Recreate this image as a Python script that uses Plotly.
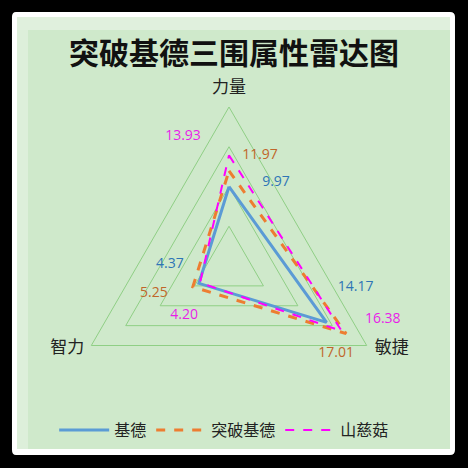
import math
import plotly.graph_objects as go

# data
axes = ['力量', '敏捷', '智力']
series_names = ['基德', '突破基德', '山慈菇']
kid = [9.97, 14.17, 4.37]
kid_break = [11.97, 17.01, 5.25]
shancigu = [13.93, 16.38, 4.20]

line_colors = ['#5b9bd5', '#ed7d31', '#ff00ff']
text_colors = ['#2e75b6', '#c0662a', '#e81ee8']
dashes = ['solid', 'dash', 'dash']
widths = [3, 3, 2]

# label nudges in pixels (dx right, dy down) per series per axis
label_nudge = [
    [(47, -4), (29, -35), (-29, -19)],
    [(31, -15), (-10, 20), (-39, 7)],
    [(-46, -19), (41, -12), (-16, 33)],
]
axis_label_nudge = [(0, -18), (25, 3), (-24, 3)]

RMAX = 20
R_PX = 159
CX, CY = 229, 266          # centre of the radar, px from top-left
RMAX_TXT = 25              # wider radial range for the label layer
angles = [90, -30, 210]    # screen angle of each axis


def nudged(vals, nudge):
    # move each point by a pixel offset and return polar r / theta
    rr, tt = [], []
    for v, a, (dx, dy) in zip(vals, angles, nudge):
        x = v * math.cos(math.radians(a)) + dx * RMAX / R_PX
        y = v * math.sin(math.radians(a)) - dy * RMAX / R_PX
        rr.append(math.hypot(x, y))
        tt.append(90 - math.degrees(math.atan2(y, x)))
    return rr, tt


def domain(rpx):
    return dict(x=[(CX - rpx) / 468, (CX + rpx) / 468],
                y=[(468 - CY - rpx) / 468, (468 - CY + rpx) / 468])


fig = go.Figure()

for name, vals, lc, dash, w in zip(series_names, [kid, kid_break, shancigu], line_colors, dashes, widths):
    fig.add_trace(go.Scatterpolar(
        r=vals + vals[:1],
        theta=axes + axes[:1],
        mode='lines',
        name=name,
        line=dict(color=lc, dash=dash, width=w),
        hoverinfo='skip',
    ))

# data labels, shifted off the points
for vals, tc, nudge in zip([kid, kid_break, shancigu], text_colors, label_nudge):
    rr, tt = nudged(vals, nudge)
    fig.add_trace(go.Scatterpolar(
        r=rr, theta=tt, mode='text',
        text=[f'{v:.2f}' for v in vals],
        textfont=dict(color=tc, size=14, family='Open Sans'),
        showlegend=False, hoverinfo='skip', subplot='polar2',
    ))

# axis names just outside the outer triangle
rr, tt = nudged([RMAX] * 3, axis_label_nudge)
fig.add_trace(go.Scatterpolar(
    r=rr, theta=tt, mode='text', text=axes,
    textfont=dict(color='#222222', size=17, family='Noto Sans CJK SC'),
    showlegend=False, hoverinfo='skip', subplot='polar2',
))

grid_green = '#8fcf85'

fig.update_layout(
    width=468, height=468,
    margin=dict(l=0, r=0, t=0, b=0),
    paper_bgcolor='black',
    polar=dict(
        domain=domain(R_PX),
        bgcolor='rgba(0,0,0,0)',
        gridshape='linear',
        radialaxis=dict(range=[0, RMAX], dtick=5, showticklabels=False, ticks='',
                        showline=False, gridcolor=grid_green, gridwidth=1),
        angularaxis=dict(rotation=90, direction='clockwise', showgrid=False,
                         showline=True, linecolor=grid_green, linewidth=1, ticks='',
                         showticklabels=False),
    ),
    polar2=dict(
        domain=domain(R_PX * RMAX_TXT / RMAX),
        bgcolor='rgba(0,0,0,0)',
        radialaxis=dict(range=[0, RMAX_TXT], visible=False),
        angularaxis=dict(rotation=90, direction='clockwise', visible=False),
    ),
    title=dict(text='<b>突破基德三围属性雷达图</b>', x=0.5, xanchor='center',
               y=(468 - 53) / 468, yanchor='middle',
               font=dict(size=30, color='#111111', family='Noto Sans CJK SC')),
    legend=dict(orientation='h', x=0.479, xanchor='center', y=(468 - 430) / 468, yanchor='middle',
                font=dict(size=16, color='#222222', family='Noto Sans CJK SC'),
                itemwidth=50, bgcolor='rgba(0,0,0,0)'),
    shapes=[
        dict(type='path', xref='paper', yref='paper', layer='below',
             path='M 0.0342,0.9744 L 0.9615,0.9744 Q 0.9722,0.9744 0.9722,0.9637 '
                  'L 0.9722,0.0385 Q 0.9722,0.0278 0.9615,0.0278 L 0.0342,0.0278 '
                  'Q 0.0256,0.0278 0.0256,0.0385 L 0.0256,0.9637 Q 0.0256,0.9744 0.0342,0.9744 Z',
             fillcolor='white', line=dict(width=0)),
        dict(type='rect', xref='paper', yref='paper', layer='below',
             x0=17 / 468, x1=450 / 468, y0=(468 - 449) / 468, y1=(468 - 17) / 468,
             fillcolor='#cfe9cb', line=dict(width=0)),
        dict(type='rect', xref='paper', yref='paper', layer='below',
             x0=17 / 468, x1=450 / 468, y0=(468 - 30) / 468, y1=(468 - 17) / 468,
             fillcolor='rgba(255,255,255,0.35)', line=dict(width=0)),
        dict(type='rect', xref='paper', yref='paper', layer='below',
             x0=17 / 468, x1=28 / 468, y0=(468 - 449) / 468, y1=(468 - 30) / 468,
             fillcolor='rgba(255,255,255,0.3)', line=dict(width=0)),
    ],
)

# drop the page's default body margin so the figure sits at the window corner
fig.write_html("out.html", config={'displayModeBar': False},
               post_script="document.body.style.margin='0';document.body.style.background='black';")
